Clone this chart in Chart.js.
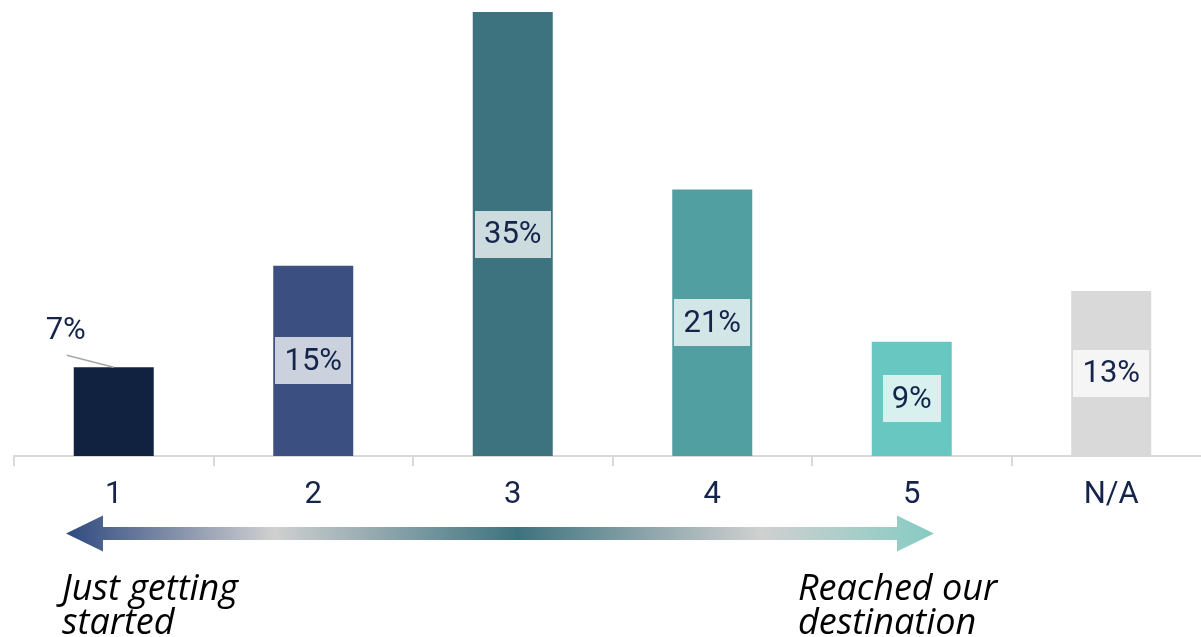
<!DOCTYPE html>
<html>
<head>
<meta charset="utf-8">
<script src="https://cdn.jsdelivr.net/npm/chart.js@4.4.1/dist/chart.umd.min.js"></script>
<style>
  html, body { margin: 0; padding: 0; background: #ffffff; overflow: hidden; }
  #wrap { width: 1201px; height: 637px; overflow: hidden; position: relative; }
  canvas { display: block; }
</style>
</head>
<body>
<div id="wrap"><canvas id="c" width="1212" height="637"></canvas></div>
<script>
// Survey answers on a 1–5 journey scale, plus "N/A"
const categories = ['1', '2', '3', '4', '5', 'N/A'];
const shares = [7, 15, 35, 21, 9, 13];
const barColors = ['#112240', '#3b5080', '#3d737f', '#529fa2', '#69c7c2', '#d9d9d9'];
const scaleEndLabels = [['Just getting', 'started'], ['Reached our', 'destination']];

const inkColor = '#14244a';
const calloutIndex = 0; // the short first bar gets its label above, with a leader line

const valueLabels = {
  id: 'valueLabels',
  afterDatasetsDraw(chart) {
    const ctx = chart.ctx;
    const meta = chart.getDatasetMeta(0);
    ctx.save();
    ctx.font = '31px Roboto';
    ctx.textAlign = 'center';
    ctx.textBaseline = 'middle';
    meta.data.forEach((bar, i) => {
      const text = shares[i] + '%';
      if (i === calloutIndex) {
        const tx = bar.x - 48, ty = bar.y - 36;
        ctx.strokeStyle = '#a6a6a6';
        ctx.lineWidth = 1.5;
        ctx.beginPath();
        ctx.moveTo(bar.x - 47, bar.y - 12);
        ctx.lineTo(bar.x, bar.y);
        ctx.stroke();
        ctx.fillStyle = inkColor;
        ctx.fillText(text, tx, ty);
        return;
      }
      const cy = (bar.y + bar.base) / 2;
      const w = ctx.measureText(text).width + 18;
      const h = 47;
      ctx.fillStyle = 'rgba(255,255,255,0.74)';
      ctx.fillRect(Math.round(bar.x - w / 2), Math.round(cy - h / 2), Math.round(w), h);
      ctx.fillStyle = inkColor;
      ctx.fillText(text, bar.x, cy + 1);
    });
    ctx.restore();
  }
};

const journeyArrow = {
  id: 'journeyArrow',
  afterDraw(chart) {
    const ctx = chart.ctx;
    const x0 = 66, x1 = 934, yc = 533.5;
    const headLen = 37, headHalf = 18, shaftHalf = 6.5;
    ctx.save();
    const g = ctx.createLinearGradient(x0, 0, x1, 0);
    g.addColorStop(0, '#2f4a80');
    g.addColorStop(0.24, '#d0d0d0');
    g.addColorStop(0.52, '#3d737f');
    g.addColorStop(0.80, '#d0d0d0');
    g.addColorStop(1, '#86cbc3');
    ctx.fillStyle = g;
    ctx.beginPath();
    ctx.moveTo(x0, yc);
    ctx.lineTo(x0 + headLen, yc - headHalf);
    ctx.lineTo(x0 + headLen, yc - shaftHalf);
    ctx.lineTo(x1 - headLen, yc - shaftHalf);
    ctx.lineTo(x1 - headLen, yc - headHalf);
    ctx.lineTo(x1, yc);
    ctx.lineTo(x1 - headLen, yc + headHalf);
    ctx.lineTo(x1 - headLen, yc + shaftHalf);
    ctx.lineTo(x0 + headLen, yc + shaftHalf);
    ctx.lineTo(x0 + headLen, yc + headHalf);
    ctx.closePath();
    ctx.fill();

    ctx.fillStyle = '#000000';
    ctx.font = 'italic 36px "Open Sans"';
    ctx.textAlign = 'left';
    ctx.textBaseline = 'alphabetic';
    const lefts = [62, 798];
    scaleEndLabels.forEach((lines, k) => {
      lines.forEach((line, j) => {
        ctx.fillText(line, lefts[k], 600 + j * 34);
      });
    });
    ctx.restore();
  }
};

new Chart(document.getElementById('c'), {
  type: 'bar',
  data: {
    labels: categories,
    datasets: [{
      data: shares,
      backgroundColor: barColors,
      borderWidth: 0,
      barPercentage: 0.401,
      categoryPercentage: 1
    }]
  },
  options: {
    responsive: false,
    animation: false,
    layout: { padding: { left: 14, right: 1, top: 12, bottom: 0 } },
    plugins: { legend: { display: false }, tooltip: { enabled: false } },
    scales: {
      y: { display: false, min: 0, max: 35 },
      x: {
        afterFit(scale) { scale.height = 181; },
        border: { display: true, color: '#d9d9d9', width: 2 },
        grid: {
          display: true,
          drawOnChartArea: false,
          drawTicks: true,
          tickLength: 10,
          color: '#d9d9d9',
          lineWidth: 2,
          offset: true
        },
        ticks: {
          color: inkColor,
          font: { family: 'Roboto', size: 31 },
          padding: 11,
          maxRotation: 0
        }
      }
    }
  },
  plugins: [valueLabels, journeyArrow]
});
</script>
</body>
</html>
